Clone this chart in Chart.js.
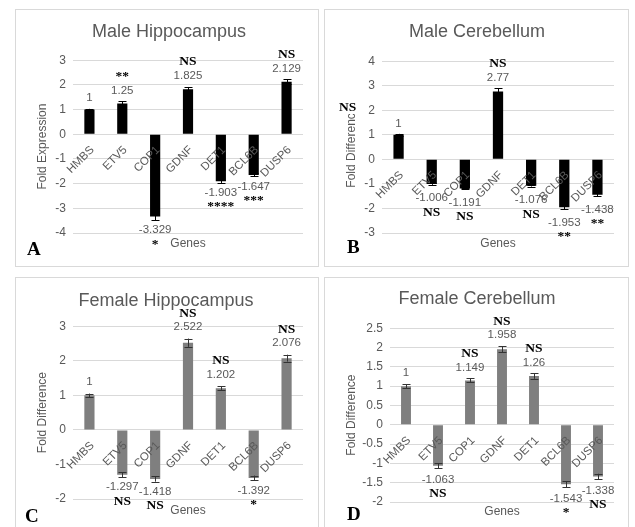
<!DOCTYPE html>
<html>
<head>
<meta charset="utf-8">
<script src="https://cdn.jsdelivr.net/npm/chart.js@4.4.0/dist/chart.umd.min.js"></script>
<style>
  html, body { margin: 0; padding: 0; background: #fff; }
  body { width: 635px; height: 527px; position: relative; overflow: hidden; }
  .panel { position: absolute; border: 1px solid #d9d9d9; box-sizing: border-box; background: #fff; }
  .panel canvas { position: absolute; left: 0; top: 0; }
  .letter { position: absolute; font: bold 19px "Liberation Serif", "Times New Roman", serif; line-height: 19px; color: #000; }
  .ns { position: absolute; font: bold 13.5px "Liberation Serif", "Times New Roman", serif; line-height: 14px; color: #000; background: #fff; }
</style>
</head>
<body>

<div class="panel" style="left:15px;top:9px;width:304px;height:258px">
  <canvas id="chartA" width="302" height="256"></canvas>
  <div class="letter" style="left:11px;top:229px">A</div>
</div>
<div class="panel" style="left:324px;top:9px;width:305px;height:258px">
  <canvas id="chartB" width="303" height="256"></canvas>
  <div class="ns" style="left:14px;top:90px">NS</div>
  <div class="letter" style="left:22px;top:227px">B</div>
</div>
<div class="panel" style="left:15px;top:277px;width:304px;height:258px">
  <canvas id="chartC" width="302" height="256"></canvas>
  <div class="letter" style="left:9px;top:228px">C</div>
</div>
<div class="panel" style="left:324px;top:277px;width:305px;height:258px">
  <canvas id="chartD" width="303" height="256"></canvas>
  <div class="letter" style="left:22px;top:226px">D</div>
</div>

<script>
// genes on the x axis (same for all four panels)
var genes = ['HMBS', 'ETV5', 'COP1', 'GDNF', 'DET1', 'BCL6B', 'DUSP6'];

// A - male hippocampus
var maleHippoValues = [1, 1.25, -3.329, 1.825, -1.903, -1.647, 2.129];
var maleHippoErrors = [0.03, 0.08, 0.15, 0.09, 0.07, 0.06, 0.09];
var maleHippoSig = ['', '**', '*', 'NS', '****', '***', 'NS'];
var maleHippoTicks = [-4, -3, -2, -1, 0, 1, 2, 3];

// B - male cerebellum
var maleCereValues = [1, -1.006, -1.191, 2.77, -1.076, -1.953, -1.438];
var maleCereErrors = [0.04, 0.03, 0.03, 0.12, 0.03, 0.08, 0.07];
var maleCereSig = ['', 'NS', 'NS', 'NS', 'NS', '**', '**'];
var maleCereTicks = [-3, -2, -1, 0, 1, 2, 3, 4];

// C - female hippocampus
var femHippoValues = [1, -1.297, -1.418, 2.522, 1.202, -1.392, 2.076];
var femHippoErrors = [0.05, 0.07, 0.08, 0.12, 0.06, 0.07, 0.1];
var femHippoSig = ['', 'NS', 'NS', 'NS', 'NS', '*', 'NS'];
var femHippoTicks = [-2, -1, 0, 1, 2, 3];

// D - female cerebellum
var femCereValues = [1, -1.063, 1.149, 1.958, 1.26, -1.543, -1.338];
var femCereErrors = [0.05, 0.06, 0.05, 0.08, 0.07, 0.08, 0.07];
var femCereSig = ['', 'NS', 'NS', 'NS', 'NS', '*', 'NS'];
var femCereTicks = [-2, -1.5, -1, -0.5, 0, 0.5, 1, 1.5, 2, 2.5];

var FONT = '"Liberation Sans", Arial, sans-serif';
var SERIF = '"Liberation Serif", "Times New Roman", serif';
var GREY = '#595959';

// error bars + value / significance labels
var barLabels = {
  id: 'barLabels',
  afterDatasetsDraw: function (chart, args, opts) {
    var ctx = chart.ctx;
    var ys = chart.scales.y;
    var vals = chart.data.datasets[0].data;
    var meta = chart.getDatasetMeta(0);
    ctx.save();
    meta.data.forEach(function (bar, i) {
      var v = vals[i], e = opts.errors[i];
      var x = Math.round(bar.x) + 0.5;
      var y1 = ys.getPixelForValue(v - e), y2 = ys.getPixelForValue(v + e);
      ctx.strokeStyle = opts.errColor;
      ctx.lineWidth = 1;
      ctx.beginPath();
      ctx.moveTo(x, y1); ctx.lineTo(x, y2);
      ctx.moveTo(x - 4, Math.round(y1) + 0.5); ctx.lineTo(x + 4, Math.round(y1) + 0.5);
      ctx.moveTo(x - 4, Math.round(y2) + 0.5); ctx.lineTo(x + 4, Math.round(y2) + 0.5);
      ctx.stroke();

      var up = v >= 0;
      var end = up ? Math.min(y1, y2) : Math.max(y1, y2);
      var vy = up ? end - opts.gapUp : end + opts.gapDown;
      ctx.textAlign = 'center';
      ctx.textBaseline = 'middle';
      ctx.fillStyle = GREY;
      ctx.font = '11.5px ' + FONT;
      ctx.fillText(String(v), bar.x, vy);
      if (opts.sig[i]) {
        ctx.fillStyle = '#000';
        ctx.font = 'bold 13.5px ' + SERIF;
        ctx.fillText(opts.sig[i], bar.x, up ? vy - opts.sigGap : vy + opts.sigGap);
      }
    });
    ctx.restore();
  }
};

function makeChart(id, o) {
  var el = document.getElementById(id);
  return new Chart(el, {
    type: 'bar',
    data: {
      labels: genes,
      datasets: [{
        data: o.values,
        backgroundColor: o.color,
        barPercentage: 0.31,
        categoryPercentage: 1,
        xAxisID: 'x',
        yAxisID: 'y'
      }]
    },
    options: {
      responsive: false,
      animation: false,
      layout: { padding: { left: o.padLeft, right: o.padRight, top: 0, bottom: 0 } },
      plugins: {
        legend: { display: false },
        tooltip: { enabled: false },
        title: {
          display: true,
          text: o.title,
          color: GREY,
          font: { family: FONT, size: 18, weight: 'normal' },
          padding: { top: o.titleTop, bottom: o.titleBottom }
        },
        barLabels: {
          errors: o.errors,
          sig: o.sig,
          errColor: o.errColor,
          gapUp: o.gapUp,
          gapDown: o.gapDown,
          sigGap: 14
        }
      },
      scales: {
        x: {
          position: { y: 0 },
          grid: { display: false },
          border: { display: false },
          ticks: {
            z: 1,
            autoSkip: false,
            minRotation: 45,
            maxRotation: 45,
            color: GREY,
            font: { family: FONT, size: 11.5 },
            padding: 1,
            labelOffset: 3
          }
        },
        xb: {
          type: 'category',
          position: 'bottom',
          grid: { display: false },
          border: { display: false },
          ticks: { display: false },
          title: {
            display: true,
            text: 'Genes',
            color: GREY,
            font: { family: FONT, size: 12 },
            padding: { top: 0, bottom: o.genesPad }
          },
          afterFit: function (s) { s.height = o.bottomH; }
        },
        y: {
          min: o.ticks[0],
          max: o.ticks[o.ticks.length - 1],
          afterBuildTicks: function (s) {
            s.ticks = o.ticks.map(function (v) { return { value: v }; });
          },
          grid: { color: '#d9d9d9', drawTicks: false },
          border: { display: false },
          ticks: {
            autoSkip: false,
            color: GREY,
            font: { family: FONT, size: 12 },
            padding: 7,
            callback: function (v) { return String(v); }
          },
          title: {
            display: true,
            text: o.yTitle,
            color: GREY,
            font: { family: FONT, size: 12 },
            padding: { top: o.yTitlePad, bottom: 0 }
          },
          afterFit: function (s) { s.width = o.leftW; }
        }
      }
    },
    plugins: [barLabels]
  });
}

makeChart('chartA', {
  title: 'Male Hippocampus', yTitle: 'Fold Expression',
  values: maleHippoValues, errors: maleHippoErrors, sig: maleHippoSig, ticks: maleHippoTicks,
  color: '#000000', errColor: '#000000',
  padLeft: 19, padRight: 15, leftW: 38, yTitlePad: 0,
  titleTop: 11, titleBottom: 17.6, bottomH: 33, genesPad: 15,
  gapUp: 11, gapDown: 10
});

makeChart('chartB', {
  title: 'Male Cerebellum', yTitle: 'Fold Difference',
  values: maleCereValues, errors: maleCereErrors, sig: maleCereSig, ticks: maleCereTicks,
  color: '#000000', errColor: '#000000',
  padLeft: 15, padRight: 14, leftW: 42, yTitlePad: 4.5,
  titleTop: 11, titleBottom: 18.6, bottomH: 33, genesPad: 15,
  gapUp: 10.5, gapDown: 13.5
});

makeChart('chartC', {
  title: 'Female Hippocampus', yTitle: 'Fold Difference',
  values: femHippoValues, errors: femHippoErrors, sig: femHippoSig, ticks: femHippoTicks,
  color: '#7f7f7f', errColor: '#333333',
  padLeft: 13, padRight: 15, leftW: 44, yTitlePad: 6,
  titleTop: 12.3, titleBottom: 14.3, bottomH: 35, genesPad: 16,
  gapUp: 11.5, gapDown: 10
});

makeChart('chartD', {
  title: 'Female Cerebellum', yTitle: 'Fold Difference',
  values: femCereValues, errors: femCereErrors, sig: femCereSig, ticks: femCereTicks,
  color: '#7f7f7f', errColor: '#333333',
  padLeft: 15, padRight: 14, leftW: 50, yTitlePad: 4,
  titleTop: 10.3, titleBottom: 18.3, bottomH: 32, genesPad: 15,
  gapUp: 11, gapDown: 11.5
});
</script>
</body>
</html>
